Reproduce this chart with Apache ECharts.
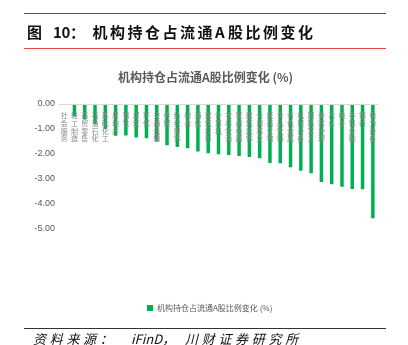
<!DOCTYPE html>
<html>
<head>
<meta charset="utf-8">
<script src="https://cdn.jsdelivr.net/npm/echarts@6/dist/echarts.min.js"></script>
<style>
  html, body { margin: 0; padding: 0; background: #ffffff; }
  #chart { width: 408px; height: 345px; }
</style>
</head>
<body>
<div id="chart"></div>
<script>
// 申万一级行业：机构持仓占流通A股比例变化（%）
const industries = [
  '社会服务', '轻工制造', '商贸零售', '石油石化', '基础化工', '房地产', '钢铁', '煤炭',
  '环保', '交通运输', '传媒', '纺织服饰', '综合', '通信', '建筑材料', '计算机',
  '农林牧渔', '家用电器', '建筑装饰', '公用事业', '医药生物', '食品饮料', '有色金属', '机械设备',
  '国防军工', '美容护理', '汽车', '电子', '非银金融', '银行', '电力设备'
];
const holdingChange = [
  -0.03, -0.50, -0.62, -0.80, -1.00, -1.27, -1.26, -1.34,
  -1.37, -1.50, -1.65, -1.72, -1.77, -1.90, -1.97, -2.01,
  -2.04, -2.08, -2.12, -2.17, -2.36, -2.37, -2.53, -2.67,
  -2.77, -3.12, -3.21, -3.31, -3.40, -3.41, -4.57
];
const seriesName = '机构持仓占流通A股比例变化 (%)';
const yMin = -5;
const yMax = 0;
const yStep = 1;

const CJK_FONT = '"Noto Sans CJK SC", "Noto Sans", sans-serif';

// Lay out a string glyph by glyph so the header keeps its wide tracking.
function trackedText(str, x, y, wide, narrow, style) {
  const out = [];
  let cx = x;
  for (const ch of str) {
    out.push({
      type: 'text', x: cx, y: y,
      style: Object.assign({ text: ch, verticalAlign: 'middle' }, style)
    });
    cx += /[\x00-\x7f]/.test(ch) ? narrow : wide;
  }
  return out;
}

const headStyle = { font: 'bold 15px ' + CJK_FONT, fill: '#111111' };
const footStyle = { font: 'italic 13px ' + CJK_FONT, fill: '#111111' };

const graphics = [
  { type: 'line', shape: { x1: 24, y1: 13.5, x2: 386, y2: 13.5 }, style: { stroke: '#555555', lineWidth: 1 } },
  { type: 'line', shape: { x1: 24, y1: 48.5, x2: 386, y2: 48.5 }, style: { stroke: '#e8474a', lineWidth: 1 } },
  { type: 'line', shape: { x1: 24, y1: 328.5, x2: 386, y2: 328.5 }, style: { stroke: '#333333', lineWidth: 1 } },
  { type: 'text', x: 131, y: 339, style: Object.assign({ text: 'iFinD，', verticalAlign: 'middle' }, footStyle) }
]
  .concat(trackedText('图', 27, 32, 17.5, 9, headStyle))
  .concat(trackedText('10：', 53, 32, 17.5, 8.5, headStyle))
  .concat(trackedText('机构持仓占流通A股比例变化', 92.5, 32, 17.5, 13, headStyle))
  .concat(trackedText('资料来源：', 33, 339, 16.7, 8, footStyle))
  .concat(trackedText('川财证券研究所', 185, 339, 16.7, 8, footStyle));

const chart = echarts.init(document.getElementById('chart'), null, { renderer: 'canvas' });
chart.setOption({
  animation: false,
  backgroundColor: '#ffffff',
  textStyle: { fontFamily: CJK_FONT },
  title: {
    text: seriesName,
    left: 113,
    top: 66,
    textStyle: { fontSize: 12, fontWeight: 'bold', color: '#595959', fontFamily: CJK_FONT }
  },
  legend: {
    data: [seriesName],
    left: 142,
    top: 299,
    icon: 'rect',
    itemWidth: 6,
    itemHeight: 6,
    itemGap: 4,
    textStyle: { fontSize: 8, color: '#595959', fontFamily: CJK_FONT, padding: [0, 0, 0, -1] }
  },
  grid: { left: 59, right: 30, top: 104, bottom: 116, containLabel: false },
  xAxis: {
    type: 'category',
    data: industries,
    position: 'top',
    z: 5,
    axisLine: { onZero: false, lineStyle: { color: '#d9d9d9', width: 1 } },
    axisTick: { show: false },
    axisLabel: {
      inside: true,
      interval: 0,
      margin: 8,
      fontSize: 7,
      lineHeight: 7.6,
      color: '#8c8c8c',
      verticalAlign: 'top',
      fontFamily: CJK_FONT,
      formatter: (s) => s.split('').join('\n')
    },
    splitLine: { show: false }
  },
  yAxis: {
    type: 'value',
    min: yMin,
    max: yMax,
    interval: yStep,
    axisLine: { show: false },
    axisTick: { show: false },
    splitLine: { show: false },
    axisLabel: {
      margin: 4,
      fontSize: 9,
      color: '#595959',
      fontFamily: '"Liberation Sans", Arial, sans-serif',
      formatter: (v) => v.toFixed(2)
    }
  },
  series: [{
    name: seriesName,
    type: 'bar',
    data: holdingChange,
    barWidth: 3.5,
    itemStyle: { color: '#00b050' }
  }],
  graphic: graphics
});
</script>
</body>
</html>
